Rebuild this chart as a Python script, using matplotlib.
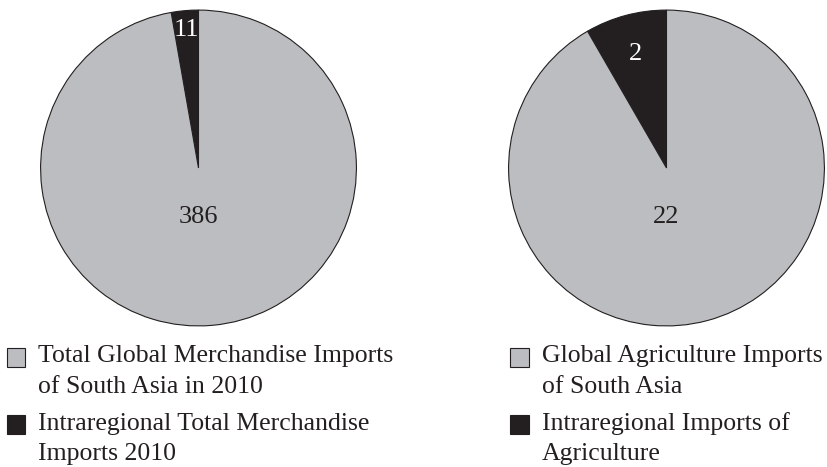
import numpy as np
import matplotlib
matplotlib.use("Agg")
import matplotlib.pyplot as plt
from matplotlib.patches import Rectangle

# data
merch_values = [11, 386]        # intraregional, global (merchandise, 2010)
agri_values = [2, 22]           # intraregional, global (agriculture)
wedge_colors = ["#231f20", "#bcbdc0"]
label_colors = ["white", "#231f20"]

merch_legend = [["Total Global Merchandise Imports", "of South Asia in 2010"],
                ["Intraregional Total Merchandise", "Imports 2010"]]
agri_legend = [["Global Agriculture Imports", "of South Asia"],
               ["Intraregional Imports of", "Agriculture"]]

plt.rcParams['font.family'] = ['Liberation Serif', 'DejaVu Serif']

W, H = 827, 467
fig = plt.figure(figsize=(W / 100, H / 100), dpi=100)


def px_axes(x0, y0, x1, y1):
    # axes given by pixel box (top-left origin)
    return fig.add_axes([x0 / W, 1 - y1 / H, (x1 - x0) / W, (y1 - y0) / H])


def draw_pie(ax, values, top_dist):
    wedges, _ = ax.pie(values, colors=wedge_colors, startangle=90,
                       counterclock=True, radius=1,
                       wedgeprops=dict(edgecolor="#231f20", linewidth=0.8))
    ax.set_xlim(-1.01, 1.01)
    ax.set_ylim(-1.01, 1.01)
    ax.set_aspect("equal")
    ax.axis("off")
    # small wedge: label at its mid angle
    w = wedges[0]
    mid = np.deg2rad((w.theta1 + w.theta2) / 2)
    ax.text(top_dist * np.cos(mid), top_dist * np.sin(mid), str(values[0]),
            color=label_colors[0], fontsize=19, ha="center", va="center")
    # big wedge: label below the centre
    ax.text(0, -0.31, str(values[1]), color=label_colors[1], fontsize=19,
            ha="center", va="center")


ax1 = px_axes(39, 8, 358, 328)
draw_pie(ax1, merch_values, 0.88)
ax2 = px_axes(507, 8, 826, 328)
draw_pie(ax2, agri_values, 0.75)


def draw_legend(x_box, x_text, entries):
    box_tops = [348, 415]
    baselines = [[362, 393], [430, 460]]
    for i, lines in enumerate(entries):
        fig.patches.append(Rectangle((x_box / W, 1 - (box_tops[i] + 19) / H),
                                     19 / W, 19 / H, transform=fig.transFigure,
                                     facecolor=wedge_colors[1 - i],
                                     edgecolor="#231f20", linewidth=0.8))
        for j, line in enumerate(lines):
            fig.text(x_text / W, 1 - baselines[i][j] / H, line,
                     fontsize=18.5, color="#231f20", va="baseline", ha="left")


draw_legend(6.5, 38, merch_legend)
draw_legend(509.5, 542, agri_legend)

plt.savefig("out.png", dpi=100)
